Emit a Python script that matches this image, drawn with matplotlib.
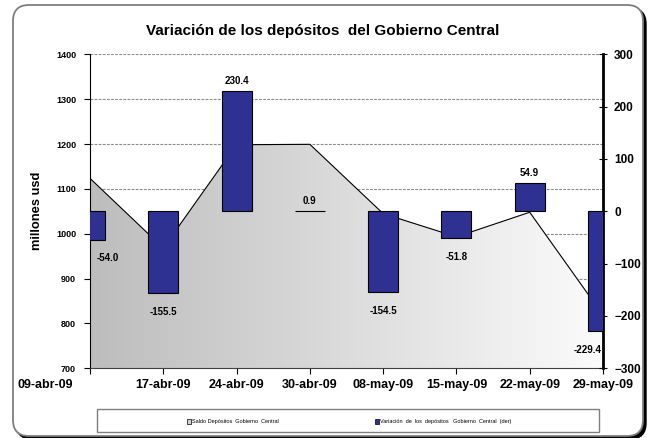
import numpy as np
import matplotlib
matplotlib.use("Agg")
import matplotlib.pyplot as plt
from matplotlib.patches import FancyBboxPatch, Rectangle

plt.rcParams['font.family'] = ['Liberation Sans', 'DejaVu Sans']

# datos
fechas = ['09-abr-09', '17-abr-09', '24-abr-09', '30-abr-09',
          '08-may-09', '15-may-09', '22-may-09', '29-may-09']
saldo = [1123.5, 968.0, 1198.4, 1199.3, 1044.8, 993.0, 1047.9, 818.5]
variacion = [-54.0, -155.5, 230.4, 0.9, -154.5, -51.8, 54.9, -229.4]

fig = plt.figure(figsize=(6.52, 4.38), dpi=100)

# marco redondeado con sombra
sombra = FancyBboxPatch((16, -1), 630, 431, boxstyle="round,pad=0,rounding_size=16",
                        transform=None, facecolor='black', edgecolor='black', zorder=-10)
marco = FancyBboxPatch((13, 2), 630, 431, boxstyle="round,pad=0,rounding_size=16",
                       transform=None, facecolor='white', edgecolor='#7f7f7f',
                       linewidth=1.3, zorder=-9)
fig.patches.extend([sombra, marco])

ax = fig.add_axes([90/652, 1-368.3/438, 513/652, 314/438])
ax.patch.set_visible(False)
x = np.arange(len(fechas))

# lineas de division
for v in range(800, 1401, 100):
    ax.axhline(v, color='#8c8c8c', lw=0.8, ls=(0, (2.5, 1.2)), zorder=0)

# area con degradado
poly = ax.fill_between(x, saldo, 700, facecolor='none', edgecolor='none', zorder=1)
grad = np.linspace(0, 1, 256).reshape(1, -1)
gris = np.empty((1, 256, 3))
gris[..., 0] = 0.74 + 0.245 * grad
gris[..., 1] = 0.74 + 0.245 * grad
gris[..., 2] = 0.74 + 0.25 * grad
img = ax.imshow(gris, extent=[0, 7, 700, 1400], aspect='auto', zorder=1,
                interpolation='bicubic')
img.set_clip_path(poly.get_paths()[0], transform=ax.transData)
ax.plot(x, saldo, color='black', lw=0.8, zorder=2)

ax.set_xlim(0, 7)
ax.set_ylim(700, 1400)
ax.set_yticks(range(700, 1401, 100))
ax.set_xticks(x)
ax.set_xticklabels([])
for i, f in enumerate(fechas):
    dx = -32 if i == 0 else 0
    ax.annotate(f, (i, 700), xytext=(dx, -8), textcoords='offset points',
                ha='center', va='top', fontsize=9, fontweight='bold')
ax.tick_params(axis='y', labelsize=6.5, length=4, width=0.8, pad=6)
ax.tick_params(axis='x', length=4, width=0.8, direction='out')
for t in ax.get_yticklabels():
    t.set_fontweight('bold')
ax.set_ylabel('millones usd', fontsize=9.3, fontweight='bold', labelpad=9)
ax.spines['top'].set_visible(False)
ax.spines['right'].set_visible(False)
ax.spines['left'].set_color('black')
ax.spines['bottom'].set_color('#404040')

ax2 = ax.twinx()
ax2.bar(x, variacion, width=0.41, color='#2e3192', edgecolor='black', linewidth=0.8, zorder=3)
ax2.set_ylim(-300, 300)
ax2.set_yticks(range(-300, 301, 100))
ax2.tick_params(axis='y', labelsize=8.5, length=6, width=0.8, direction='inout', pad=5)
for t in ax2.get_yticklabels():
    t.set_fontweight('bold')
for s in ['top', 'left', 'bottom']:
    ax2.spines[s].set_visible(False)
ax2.spines['right'].set_linewidth(2)
ax2.spines['right'].set_color('black')

for i, v in enumerate(variacion):
    if i == 0:
        ha, dx = 'left', 5
    elif i == len(variacion) - 1:
        ha, dx = 'right', -1
    else:
        ha, dx = 'center', 0
    if v >= 0:
        ax2.annotate(f'{v:.1f}', (i, v), xytext=(dx, 3.5), textcoords='offset points',
                     ha=ha, va='bottom', fontsize=7, fontweight='bold', zorder=5)
    else:
        ax2.annotate(f'{v:.1f}', (i, v), xytext=(dx, -10), textcoords='offset points',
                     ha=ha, va='top', fontsize=7, fontweight='bold', zorder=5)

fig.text(323/652, 1-31/438, 'Variación de los depósitos  del Gobierno Central',
         ha='center', va='center', fontsize=11, fontweight='bold')

# leyenda
fig.patches.append(Rectangle((97/652, 1-432/438), 502/652, 23/438, transform=fig.transFigure,
                             facecolor='white', edgecolor='#7f7f7f', lw=1.0))
fig.patches.append(Rectangle((187/652, 1-424/438), 4/652, 5/438, transform=fig.transFigure,
                             facecolor='#d0d0d0', edgecolor='black', lw=0.5))
fig.text(192/652, 1-421/438, 'Saldo Depósitos  Gobierno  Central', fontsize=4,
         va='center', ha='left')
fig.patches.append(Rectangle((375/652, 1-424/438), 4/652, 5/438, transform=fig.transFigure,
                             facecolor='#2e3192', edgecolor='black', lw=0.5))
fig.text(380/652, 1-421/438, 'Variación  de  los  depósitos   Gobierno  Central  (der)',
         fontsize=4, va='center', ha='left')

fig.savefig('out.png', dpi=100)
